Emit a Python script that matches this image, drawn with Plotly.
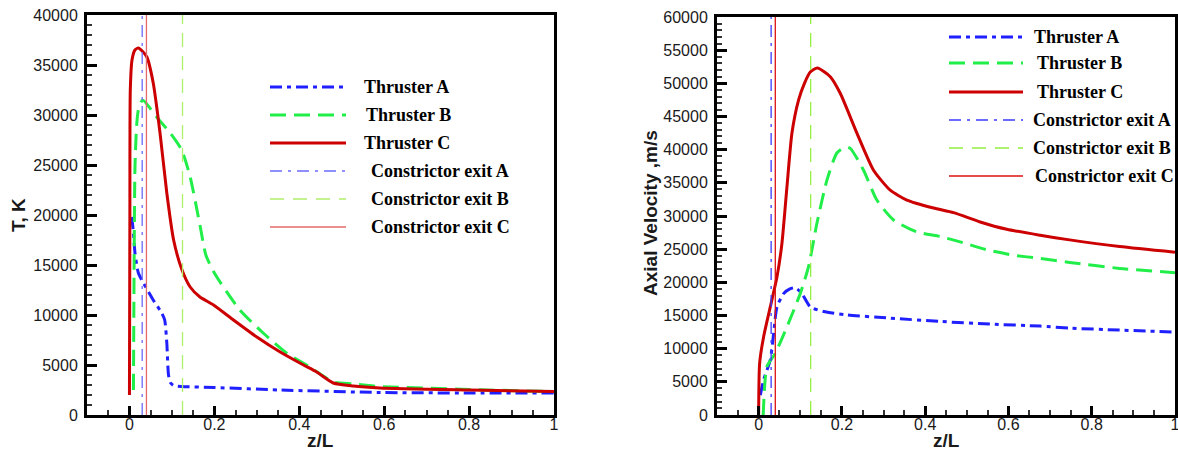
import plotly.graph_objects as go

W, H = 1178, 452

# ---- left panel: temperature ----
zA_T = [0.0055, 0.0094, 0.013, 0.021, 0.033, 0.056, 0.076, 0.083, 0.088, 0.092, 0.097,
        0.104, 0.123, 0.2, 0.355, 0.59, 0.8, 1.0]
TA = [19800, 18200, 16200, 14200, 13200, 11500, 10200, 9500, 7200, 4000, 3200,
      2950, 2850, 2750, 2500, 2250, 2200, 2200]

zB_T = [0.0094, 0.011, 0.013, 0.017, 0.021, 0.031, 0.064, 0.096, 0.123, 0.143, 0.166,
        0.18, 0.2, 0.26, 0.315, 0.37, 0.425, 0.46, 0.48, 0.527, 0.59, 0.8, 1.0]
TB = [2500, 15000, 24800, 29000, 30500, 31500, 29800, 28200, 26500, 23800, 19000,
      16000, 14200, 10500, 8200, 6200, 4800, 3800, 3300, 3100, 2850, 2550, 2350]

zC_T = [0, 0.001, 0.002, 0.006, 0.013, 0.021, 0.03, 0.041, 0.056, 0.072, 0.088, 0.104,
        0.123, 0.143, 0.166, 0.198, 0.245, 0.3, 0.355, 0.41, 0.441, 0.48, 0.527, 0.59, 0.8, 1.0]
TC = [2000, 20000, 32500, 35500, 36500, 36700, 36400, 35800, 33200, 28200, 22200, 17500,
      14600, 12800, 11800, 11000, 9500, 7800, 6300, 5000, 4300, 3200, 2900, 2700, 2500, 2350]

# ---- right panel: axial velocity ----
zA_V = [0.004, 0.012, 0.028, 0.036, 0.044, 0.06, 0.075, 0.088, 0.104, 0.124, 0.156, 0.212,
        0.316, 0.436, 0.556, 0.676, 0.747, 0.867, 1.0]
VA = [3000, 5300, 8300, 12300, 16300, 18300, 19000, 19200, 18300, 16300, 15600, 15100,
      14600, 14100, 13700, 13400, 13100, 12800, 12500]

zB_V = [0.011, 0.02, 0.04, 0.068, 0.1, 0.12, 0.14, 0.164, 0.188, 0.208, 0.22, 0.252, 0.284,
        0.324, 0.38, 0.436, 0.484, 0.548, 0.612, 0.676, 0.747, 0.867, 1.0]
VB = [0, 7300, 9300, 13300, 18300, 22400, 28900, 35400, 39500, 40400, 40200, 36900, 32400,
      29400, 27600, 26900, 26100, 24900, 24100, 23600, 23000, 22100, 21450]

zC_V = [0, 0.0024, 0.012, 0.028, 0.044, 0.056, 0.068, 0.08, 0.096, 0.11, 0.124, 0.141, 0.172,
        0.196, 0.236, 0.276, 0.316, 0.356, 0.42, 0.468, 0.532, 0.596, 0.676, 0.747, 0.867, 1.0]
VC = [0, 7800, 11800, 16300, 20800, 25900, 34400, 42500, 47500, 50000, 51700, 52300, 51000,
      48500, 42500, 36900, 33900, 32400, 31200, 30500, 29100, 28000, 27100, 26400, 25400, 24550]

# constrictor exit positions (z/L)
constrictor = {'A': 0.03, 'B': 0.125, 'C': 0.04}

names = ['Thruster A', 'Thruster B', 'Thruster C',
         'Constrictor exit A', 'Constrictor exit B', 'Constrictor exit C']

MAIN = [
    dict(color='#1f1fff', width=3, dash='12px,5px,4px,5px'),
    dict(color='#22ee4a', width=3, dash='16px,8px'),
    dict(color='#cc0000', width=3, dash='solid'),
]
EXIT_L = [
    dict(color='#6b6bff', width=1.3, dash='12px,6px,3px,6px'),
    dict(color='#aef06a', width=1.3, dash='14px,9px'),
    dict(color='#e36a6a', width=1.3, dash='solid'),
]
EXIT_R = [
    dict(color='#3a3aff', width=1.3, dash='12px,6px,3px,6px'),
    dict(color='#94ee44', width=1.3, dash='14px,9px'),
    dict(color='#dd1111', width=1.3, dash='solid'),
]

fig = go.Figure()

def add_panel(xa, ya, series, ymax, exit_styles):
    for (x, y), st in zip(series, MAIN):
        fig.add_trace(go.Scatter(x=x, y=y, mode='lines', xaxis=xa, yaxis=ya,
                                 line=dict(shape='spline', smoothing=0.6, **st),
                                 showlegend=False, hoverinfo='skip'))
    for key, st in zip(['A', 'B', 'C'], exit_styles):
        c = constrictor[key]
        fig.add_trace(go.Scatter(x=[c, c], y=[0, ymax], mode='lines', xaxis=xa, yaxis=ya,
                                 line=st, showlegend=False, hoverinfo='skip'))

add_panel('x', 'y', [(zA_T, TA), (zB_T, TB), (zC_T, TC)], 40000, EXIT_L)
add_panel('x2', 'y2', [(zA_V, VA), (zB_V, VB), (zC_V, VC)], 60000, EXIT_R)

# ---- axes ----
TICKFONT = dict(family='Liberation Sans, Arial', size=16, color='#1a1a1a')

def xaxis(domain, anchor):
    return dict(domain=domain, anchor=anchor, range=[-0.1, 1], tick0=0, dtick=0.2,
                ticks='inside', ticklen=9, tickwidth=2.5, tickcolor='black',
                minor=dict(tick0=0, dtick=0.05, ticks='inside', ticklen=5, tickwidth=1.5,
                           tickcolor='#333'),
                showline=True, linewidth=3, linecolor='black', mirror=True,
                showgrid=False, zeroline=False, tickfont=TICKFONT, automargin=False,
                ticklabelstandoff=-7, ticklabeloverflow='allow')

def yaxis(domain, anchor, ymax):
    return dict(domain=domain, anchor=anchor, range=[0, ymax], tick0=0, dtick=5000,
                tickformat='d', ticks='inside', ticklen=10, tickwidth=2.5, tickcolor='black',
                minor=dict(tick0=0, dtick=1000, ticks='inside', ticklen=5, tickwidth=1.5,
                           tickcolor='#333'),
                showline=True, linewidth=3, linecolor='black', mirror=True,
                showgrid=False, zeroline=False, tickfont=TICKFONT, ticklabelstandoff=3,
                automargin=False, ticklabeloverflow='allow')

fig.update_layout(
    template='none',
    width=W, height=H, margin=dict(l=0, r=0, t=0, b=0, autoexpand=False),
    paper_bgcolor='white', plot_bgcolor='white',
    xaxis=xaxis([87 / W, 554 / W], 'y'),
    yaxis=yaxis([1 - 415 / H, 1 - 15 / H], 'x', 40000),
    xaxis2=xaxis([717 / W, 1175 / W], 'y2'),
    yaxis2=yaxis([1 - 415 / H, 1 - 17 / H], 'x2', 60000),
)

# ---- axis titles ----
TITLEFONT = dict(family='Liberation Sans, Arial', size=19, color='#1a1a1a')
for text, x, y, ang in [('T, K', 18, 215, -90), ('Axial Velocity ,m/s', 650, 213, -90),
                        ('z/L', 320, 440, 0), ('z/L', 946, 440, 0)]:
    fig.add_annotation(text=f'<b>{text}</b>', x=x / W, y=1 - y / H, xref='paper', yref='paper',
                       showarrow=False, textangle=ang, font=TITLEFONT,
                       xanchor='center', yanchor='middle')

# ---- legends (drawn as keys + labels) ----
LEGFONT = dict(family='Liberation Serif, Times New Roman', size=18, color='black')

def legend(x0, x1, rows, text_x, styles):
    for name, ry, tx, st in zip(names, rows, text_x, styles):
        fig.add_shape(type='line', xref='paper', yref='paper',
                      x0=x0 / W, x1=x1 / W, y0=1 - ry / H, y1=1 - ry / H,
                      line=st)
        fig.add_annotation(text=f'<b>{name}</b>', x=tx / W, y=1 - ry / H,
                           xref='paper', yref='paper', showarrow=False,
                           xanchor='left', yanchor='middle', font=LEGFONT)

legend(270, 346, [87, 115, 143, 171, 199, 227], [362, 364, 362, 369, 369, 369],
       MAIN + EXIT_L)
legend(949, 1023, [37, 63, 92, 120, 148, 176], [1032, 1035, 1035, 1031, 1031, 1033],
       MAIN + EXIT_R)

fig.write_html("out.html", config={'displayModeBar': False},
               post_script="document.body.style.margin='0';")
